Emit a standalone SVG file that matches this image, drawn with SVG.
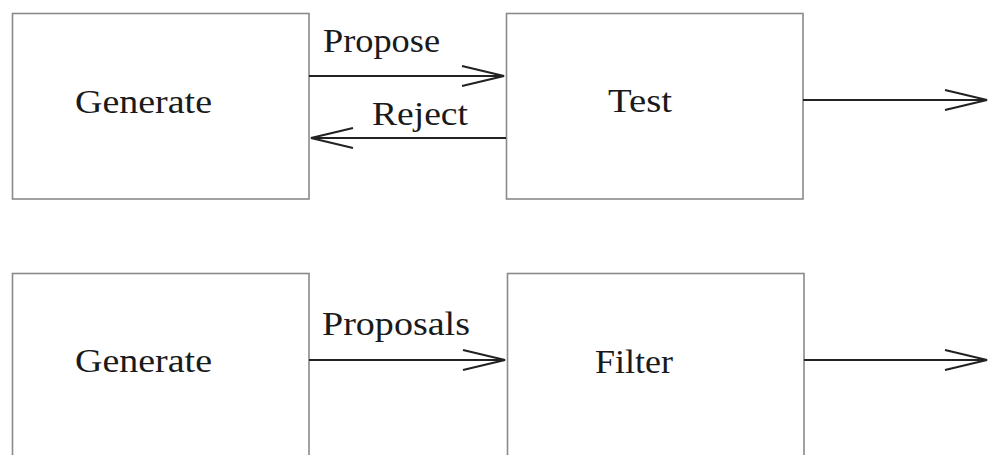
<svg xmlns="http://www.w3.org/2000/svg" width="989" height="455" viewBox="0 0 989 455">
<style>
.box{fill:#ffffff;stroke:#8a8a8a;stroke-width:1.6}
.lbl{font-family:"Liberation Serif","Times New Roman",serif;font-size:34px;fill:#1a1a1a}
.edge{stroke:#222222;stroke-width:2.2;fill:none}
</style>
<defs>
<marker id="open" markerUnits="userSpaceOnUse" markerWidth="50" markerHeight="30" viewBox="-46 -13 50 26" refX="0" refY="0" orient="auto">
<path d="M-42,-10 L0,0 L-42,10" fill="none" stroke="#222222" stroke-width="2.2"/>
</marker>
</defs>
<rect width="989" height="455" fill="#ffffff"/>
<g id="generate1">
<rect class="box" x="12.5" y="13.5" width="296.5" height="185.5"/>
<text class="lbl" x="75" y="113" textLength="137" lengthAdjust="spacingAndGlyphs">Generate</text>
</g>
<g id="test">
<rect class="box" x="506.5" y="13.5" width="296.5" height="185.5"/>
<text class="lbl" x="608" y="112" textLength="64" lengthAdjust="spacingAndGlyphs">Test</text>
</g>
<g id="generate2">
<rect class="box" x="12.5" y="273.5" width="296.5" height="200"/>
<text class="lbl" x="75" y="372" textLength="137" lengthAdjust="spacingAndGlyphs">Generate</text>
</g>
<g id="filter">
<rect class="box" x="507.5" y="273.5" width="296.5" height="200"/>
<text class="lbl" x="595" y="373" textLength="78" lengthAdjust="spacingAndGlyphs">Filter</text>
</g>
<g id="connectors">
<line class="edge" x1="309" y1="76" x2="504" y2="76" marker-end="url(#open)"/>
<text class="lbl" x="323" y="52" textLength="117" lengthAdjust="spacingAndGlyphs">Propose</text>
<line class="edge" x1="506" y1="138" x2="311" y2="138" marker-end="url(#open)"/>
<text class="lbl" x="372" y="125" textLength="96" lengthAdjust="spacingAndGlyphs">Reject</text>
<line class="edge" x1="803" y1="100" x2="987" y2="100" marker-end="url(#open)"/>
<line class="edge" x1="309" y1="360" x2="505" y2="360" marker-end="url(#open)"/>
<text class="lbl" x="322" y="335" textLength="148" lengthAdjust="spacingAndGlyphs">Proposals</text>
<line class="edge" x1="804" y1="360" x2="987" y2="360" marker-end="url(#open)"/>
</g>
</svg>
